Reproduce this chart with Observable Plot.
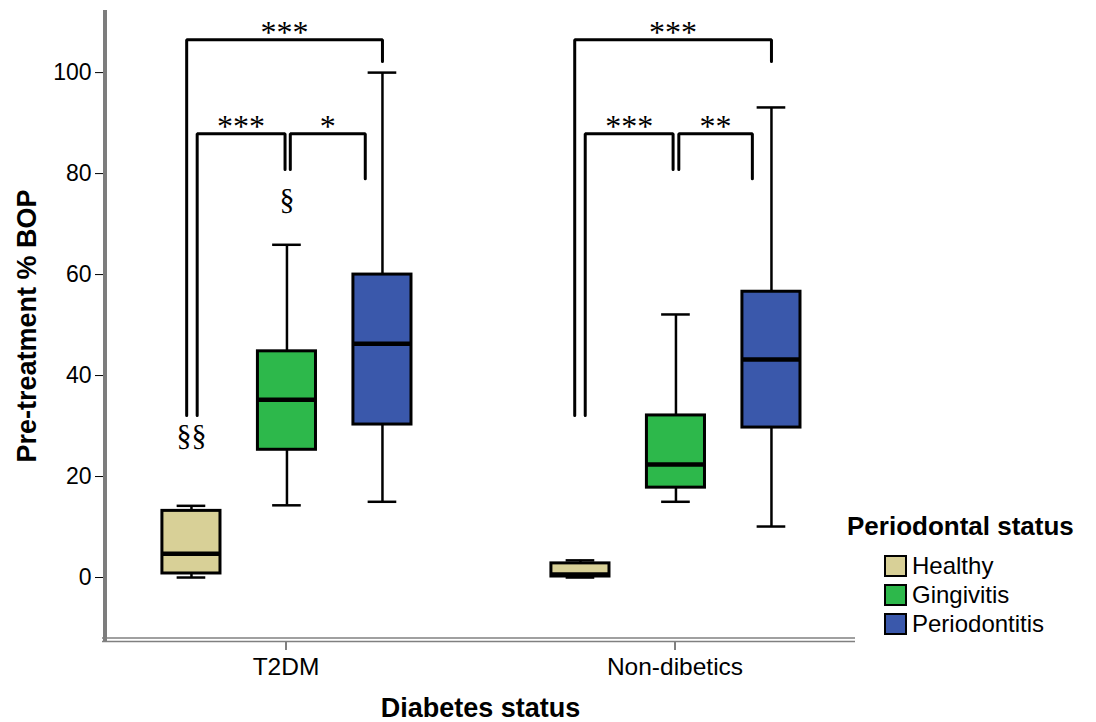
<!DOCTYPE html>
<html><head><meta charset="utf-8">
<script src="https://cdn.jsdelivr.net/npm/d3@7"></script>
<script src="https://cdn.jsdelivr.net/npm/@observablehq/plot@0.6"></script>
<style>
body{margin:0;background:#fff;}
#wrap{position:relative;width:1096px;height:722px;font-family:"Liberation Sans",Arial,sans-serif;color:#000;}
#legend{position:absolute;left:847px;top:513px;}
#legend .lt{font-size:26px;font-weight:bold;line-height:26px;white-space:nowrap;}
#legend .row{position:absolute;left:37px;display:flex;align-items:center;height:23px;white-space:nowrap;}
#legend .sw{width:23px;height:22px;box-sizing:border-box;border:2px solid #000;margin-right:5px;}
#legend .tx{font-size:24px;line-height:23px;}
svg [aria-label="y-axis label"], svg [aria-label="fx-axis label"]{font-size:27px;font-weight:bold;}
svg g[aria-label="y-axis tick label"], svg g[aria-label="y-axis tick label"] text{font-size:23px !important;}
</style></head><body><div id="wrap"></div>
<script>
// Categories
const groups = ["T2DM", "Non-dibetics"];
const statuses = ["Healthy", "Gingivitis", "Periodontitis"];
const statusColors = ["#D8D097", "#2DB84B", "#3A58AB"];
const yTicks = [0, 20, 40, 60, 80, 100];

// Box-plot summaries (% BOP), in status order
const t2dmMin    = [0.0, 14.3, 15.0];
const t2dmQ1     = [0.8, 25.3, 30.3];
const t2dmMedian = [4.7, 35.2, 46.3];
const t2dmQ3     = [13.2, 44.8, 60.0];
const t2dmMax    = [14.2, 65.9, 100.0];

const nonMin    = [0.0, 15.0, 10.1];
const nonQ1     = [0.2, 17.8, 29.7];
const nonMedian = [0.6, 22.4, 43.2];
const nonQ3     = [2.8, 32.1, 56.6];
const nonMax    = [3.4, 52.1, 93.1];

// Significance brackets
const bracketGroup = ["T2DM", "T2DM", "T2DM", "Non-dibetics", "Non-dibetics", "Non-dibetics"];
const bracketFrom  = ["Healthy", "Healthy", "Gingivitis", "Healthy", "Healthy", "Gingivitis"];
const bracketTo    = ["Periodontitis", "Gingivitis", "Periodontitis", "Periodontitis", "Gingivitis", "Periodontitis"];
const bracketTop   = [106.5, 87.9, 87.9, 106.5, 87.9, 87.9];
const bracketFromEnd = [32.1, 32.1, 80.8, 32.1, 32.1, 80.8];
const bracketToEnd   = [102.2, 80.8, 79.0, 102.2, 80.8, 79.0];
const bracketLabel = ["***", "***", "*", "***", "***", "**"];
// small horizontal nudges (in box-spacing units) so legs do not overlap
const bracketFromNudge = [-0.05, 0.06, 0.035, -0.06, 0.05, 0.03];
const bracketToNudge   = [0.0, -0.02, -0.18, 0.0, -0.03, -0.2];

// Section-sign annotations
const signGroup  = ["T2DM", "T2DM"];
const signStatus = ["Healthy", "Gingivitis"];
const signValue  = [28.2, 74.8];
const signText   = ["§§", "§"];

// ---- build tables ----
const idx = s => statuses.indexOf(s);
const boxes = [];
statuses.forEach((s, i) => {
  boxes.push({group: "T2DM", status: s, xi: i, min: t2dmMin[i], q1: t2dmQ1[i], median: t2dmMedian[i], q3: t2dmQ3[i], max: t2dmMax[i]});
  boxes.push({group: "Non-dibetics", status: s, xi: i, min: nonMin[i], q1: nonQ1[i], median: nonMedian[i], q3: nonQ3[i], max: nonMax[i]});
});
const brackets = bracketGroup.map((g, i) => ({
  id: i, group: g,
  x1: idx(bracketFrom[i]) + bracketFromNudge[i],
  x2: idx(bracketTo[i]) + bracketToNudge[i],
  top: bracketTop[i], e1: bracketFromEnd[i], e2: bracketToEnd[i], label: bracketLabel[i]
}));
const bracketPts = brackets.flatMap(b => [
  {id: b.id, group: b.group, x: b.x1, y: b.e1},
  {id: b.id, group: b.group, x: b.x1, y: b.top},
  {id: b.id, group: b.group, x: b.x2, y: b.top},
  {id: b.id, group: b.group, x: b.x2, y: b.e2}
]);
const signs = signGroup.map((g, i) => ({group: g, xi: idx(signStatus[i]), y: signValue[i], text: signText[i]}));

const boxHalf = 0.304, capHalf = 0.15;
const serif = "'Liberation Serif', 'Times New Roman', serif";

const plot = Plot.plot({
  width: 1096, height: 722,
  marginLeft: 105, marginRight: 241, marginTop: 10, marginBottom: 81,
  style: {fontFamily: "'Liberation Sans', Arial, sans-serif", fontSize: "21px", color: "#000", background: "#fff", overflow: "visible"},
  fx: {domain: groups, paddingInner: 0.072, paddingOuter: 0, axis: "bottom", tickSize: 9, tickPadding: 7,
       label: "Diabetes status", labelAnchor: "center", labelOffset: 75},
  x: {domain: [-0.9, 2.88], axis: null},
  y: {domain: [-12.67, 112.3], ticks: yTicks, tickSize: 10, tickPadding: 4,
      label: "Pre-treatment % BOP", labelAnchor: "center", labelOffset: 89, labelArrow: "none"},
  color: {domain: statuses, range: statusColors},
  marks: [
    Plot.ruleX(boxes, {fx: "group", x: "xi", y1: "min", y2: "max", stroke: "#000", strokeWidth: 2.5}),
    Plot.ruleY(boxes, {fx: "group", y: "min", x1: d => d.xi - capHalf, x2: d => d.xi + capHalf, stroke: "#000", strokeWidth: 2.5}),
    Plot.ruleY(boxes, {fx: "group", y: "max", x1: d => d.xi - capHalf, x2: d => d.xi + capHalf, stroke: "#000", strokeWidth: 2.5}),
    Plot.rect(boxes, {fx: "group", x1: d => d.xi - boxHalf, x2: d => d.xi + boxHalf, y1: "q1", y2: "q3", fill: "status", stroke: "#000", strokeWidth: 3}),
    Plot.ruleY(boxes, {fx: "group", y: "median", x1: d => d.xi - boxHalf, x2: d => d.xi + boxHalf, stroke: "#000", strokeWidth: 4.5}),
    Plot.line(bracketPts, {fx: "group", x: "x", y: "y", z: "id", stroke: "#000", strokeWidth: 3, strokeLinejoin: "miter"}),
    Plot.text(brackets, {fx: "group", x: d => (d.x1 + d.x2) / 2, y: "top", text: "label", fontFamily: serif, fontSize: 32, lineAnchor: "bottom", dy: 3}),
    Plot.text(signs, {fx: "group", x: "xi", y: "y", text: "text", fontFamily: serif, fontSize: 30})
  ]
});

// axis text sizes
const tickNums = yTicks.map(String);
d3.select(plot).selectAll("text").each(function () {
  const t = this.textContent.trim();
  if (tickNums.includes(t)) d3.select(this).style("font-size", "23px").attr("font-size", null);
  else if (groups.includes(t)) d3.select(this).style("font-size", "24.5px").attr("font-size", null);
});
d3.select(plot).selectAll('[aria-label="y-axis label"] text, [aria-label="fx-axis label"] text').style("font-size", "27px").style("font-weight", "bold");

// axis lines, placed from the plot's own scales
const fxR = plot.scale("fx").range, yR = plot.scale("y").range;
const svg = d3.select(plot);
svg.append("line").attr("x1", fxR[0]).attr("x2", fxR[0]).attr("y1", yR[0]).attr("y2", yR[1])
  .attr("stroke", "#7d7d7d").attr("stroke-width", 4);
svg.append("line").attr("x1", fxR[0] - 3).attr("x2", fxR[1]).attr("y1", yR[0] - 3).attr("y2", yR[0] - 3)
  .attr("stroke", "#808080").attr("stroke-width", 1.6);
svg.append("line").attr("x1", fxR[0] - 3).attr("x2", fxR[1]).attr("y1", yR[0] + 0.5).attr("y2", yR[0] + 0.5)
  .attr("stroke", "#808080").attr("stroke-width", 1.6);

const wrap = document.getElementById("wrap");
wrap.appendChild(plot);

// legend from the plot's color scale
const col = plot.scale("color");
const leg = document.createElement("div");
leg.id = "legend";
leg.innerHTML = `<div class="lt">Periodontal status</div>` +
  col.domain.map((s, i) => `<div class="row" style="top:${41 + i * 29}px"><div class="sw" style="background:${col.range[i]}"></div><span class="tx">${s}</span></div>`).join("");
wrap.appendChild(leg);
</script>
</body></html>
